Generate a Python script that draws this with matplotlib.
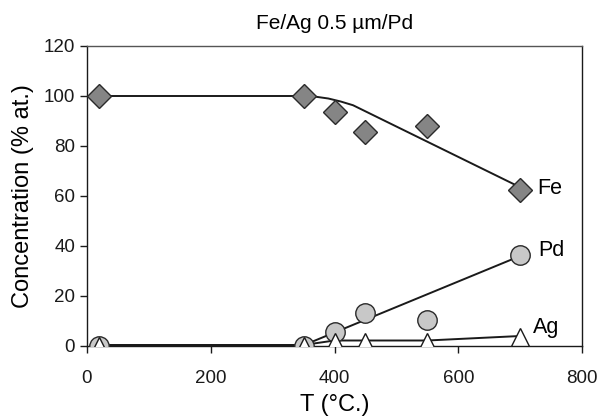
import matplotlib
matplotlib.use("Agg")
import matplotlib.pyplot as plt

plt.rcParams['font.family'] = ['Liberation Sans', 'DejaVu Sans']

T = [20, 350, 400, 450, 550, 700]
fe = [100, 100, 93.5, 85.5, 88.2, 62.5]
pd_ = [0, 0, 5.5, 13.2, 10.6, 36.3]
ag_T = [20, 350, 400, 450, 550, 700]
ag = [0, 0, 1.7, 1.7, 1.7, 3.7]

# trend lines
fe_fit_T = [20, 350, 370, 390, 410, 430, 700]
fe_fit = [100, 100, 99.7, 99.0, 97.8, 96.3, 63.5]
pd_fit_T = [20, 350, 700]
pd_fit = [0.3, 0.3, 36]
ag_fit_T = [20, 350, 400, 550, 700]
ag_fit = [0.4, 0.4, 2.2, 2.2, 4]

fig = plt.figure(figsize=(5.99, 4.18), dpi=100)
ax = fig.add_axes([87/599, 1 - 346/418, (582 - 87)/599, (346 - 46)/418])

lc = '#1a1a1a'
ax.plot(fe_fit_T, fe_fit, color=lc, lw=1.4, zorder=2)
ax.plot(pd_fit_T, pd_fit, color=lc, lw=1.4, zorder=2)
ax.plot(ag_fit_T, ag_fit, color=lc, lw=1.4, zorder=2)

ax.plot(T, fe, ls='none', marker='D', ms=12.5, mfc='#858585', mec='#2a2a2a', mew=1.0, zorder=3)
ax.plot(T, pd_, ls='none', marker='o', ms=14, mfc='#c8c8c8', mec='#2a2a2a', mew=1.0, zorder=3)
ax.plot(ag_T, ag, ls='none', marker='^', ms=13.5, mfc='white', mec='#1a1a1a', mew=1.0, zorder=4)

ax.set_xlim(0, 800)
ax.set_ylim(0, 120)
ax.set_xticks([0, 200, 400, 600, 800])
ax.set_yticks([0, 20, 40, 60, 80, 100, 120])
ax.tick_params(direction='out', length=5, width=1, labelsize=13.5, colors='#1a1a1a')
ax.tick_params(axis='x', pad=12)
for s in ax.spines.values():
    s.set_linewidth(1.0)
    s.set_color('#1a1a1a')
ax.spines['top'].set_color('#555555')

ax.set_title('Fe/Ag 0.5 µm/Pd', fontsize=15, pad=12)
ax.set_xlabel('T (°C.)', fontsize=17, labelpad=5)
ax.set_ylabel('Concentration (% at.)', fontsize=17, labelpad=7)

ax.text(727, 63, 'Fe', fontsize=15.5, va='center', ha='left')
ax.text(729, 38, 'Pd', fontsize=15.5, va='center', ha='left')
ax.text(721, 7.6, 'Ag', fontsize=15.5, va='center', ha='left')

fig.savefig('out.png', dpi=100)
